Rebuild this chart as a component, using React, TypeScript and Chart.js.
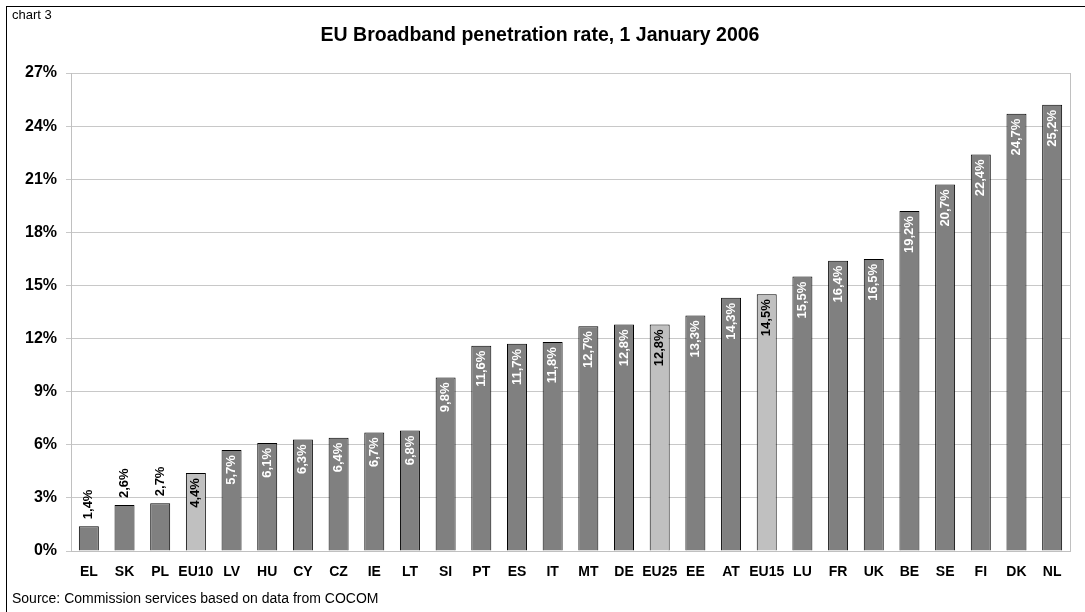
import React, { useEffect, useRef } from "react";
import { Chart, registerables } from "chart.js";

Chart.register(...registerables);

const categories = ["EL","SK","PL","EU10","LV","HU","CY","CZ","IE","LT","SI","PT","ES","IT","MT","DE","EU25","EE","AT","EU15","LU","FR","UK","BE","SE","FI","DK","NL"];
const values = [1.4,2.6,2.7,4.4,5.7,6.1,6.3,6.4,6.7,6.8,9.8,11.6,11.7,11.8,12.7,12.8,12.8,13.3,14.3,14.5,15.5,16.4,16.5,19.2,20.7,22.4,24.7,25.2];
const aggregates = ["EU10","EU25","EU15"];
const yTicks = [0,3,6,9,12,15,18,21,24,27];
const titleText = "EU Broadband penetration rate, 1 January 2006";
const cornerText = "chart 3";
const sourceText = "Source: Commission services based on data from COCOM";

const FONT = "'Liberation Sans', Arial, sans-serif";

const decorPlugin = {
  id: "decor",
  afterDraw(chart: any) {
    const ctx = chart.ctx;
    const area = chart.chartArea;
    ctx.save();
    // outer frame (extends beyond right/bottom edges)
    ctx.strokeStyle = "#000";
    ctx.lineWidth = 1;
    ctx.strokeRect(6.5, 6.5, chart.width + 10, chart.height + 10);
    // plot area right border
    ctx.strokeStyle = "#c0c0c0";
    ctx.beginPath();
    ctx.moveTo(Math.round(area.right) + 0.5, area.top);
    ctx.lineTo(Math.round(area.right) + 0.5, area.bottom);
    ctx.stroke();
    // texts
    ctx.fillStyle = "#000";
    ctx.textBaseline = "alphabetic";
    ctx.textAlign = "left";
    ctx.font = `13px ${FONT}`;
    ctx.fillText(cornerText, 12, 19);
    ctx.font = `14px ${FONT}`;
    ctx.fillText(sourceText, 12, 603);
    ctx.textAlign = "center";
    ctx.font = `bold 19.5px ${FONT}`;
    ctx.fillText(titleText, 540, 41);

    // data labels
    const meta = chart.getDatasetMeta(0);
    ctx.font = `bold 13px ${FONT}`;
    meta.data.forEach((bar: any, i: number) => {
      const v = values[i];
      const label = v.toFixed(1).replace(".", ",") + "%";
      const isAgg = aggregates.includes(categories[i]);
      ctx.save();
      ctx.translate(bar.x, bar.y);
      ctx.rotate(-Math.PI / 2);
      ctx.textBaseline = "middle";
      if (v < 4) {
        ctx.textAlign = "left";
        ctx.fillStyle = "#000";
        ctx.fillText(label, 7, 0);
      } else {
        ctx.textAlign = "right";
        ctx.fillStyle = isAgg ? "#000" : "#fff";
        ctx.fillText(label, -5, 0);
      }
      ctx.restore();
    });
    ctx.restore();
  },
};

export default function App() {
  const ref = useRef<HTMLCanvasElement>(null);
  useEffect(() => {
    if (!ref.current) return;
    const chart = new Chart(ref.current, {
      type: "bar",
      data: {
        labels: categories,
        datasets: [
          {
            data: values,
            backgroundColor: categories.map((c) => (aggregates.includes(c) ? "#c0c0c0" : "#808080")),
            borderColor: "#000",
            borderWidth: 1,
            borderSkipped: "bottom",
            categoryPercentage: 1,
            barPercentage: 0.56,
          },
        ],
      },
      options: {
        animation: false,
        responsive: false,
        devicePixelRatio: 1,
        layout: { padding: { top: 73, right: 15, left: 0, bottom: 0 } },
        plugins: { legend: { display: false }, title: { display: false }, tooltip: { enabled: false } },
        scales: {
          x: {
            grid: { display: false, drawTicks: false },
            border: { display: true, color: "#c0c0c0" },
            ticks: {
              autoSkip: false,
              maxRotation: 0,
              minRotation: 0,
              padding: 13,
              color: "#000",
              font: { family: FONT, size: 14, weight: "bold" },
            },
            afterFit: (s: any) => { s.height = 61; },
          },
          y: {
            min: 0,
            max: 27,
            afterBuildTicks: (s: any) => { s.ticks = yTicks.map((v) => ({ value: v })); },
            grid: { color: "#c8c8c8", tickLength: 5, drawTicks: true },
            border: { display: true, color: "#c0c0c0" },
            ticks: {
              padding: 9,
              color: "#000",
              font: { family: FONT, size: 16, weight: "bold" },
              callback: (v: any) => v + "%",
            },
            afterFit: (s: any) => { s.width = 71; },
          },
        },
      },
      plugins: [decorPlugin],
    });
    return () => chart.destroy();
  }, []);
  return (
    <div style={{ position: "fixed", left: 0, top: 0, width: 1085, height: 612, background: "#fff", overflow: "hidden" }}>
      <canvas ref={ref} width={1085} height={612} style={{ width: 1085, height: 612 }} />
    </div>
  );
}
